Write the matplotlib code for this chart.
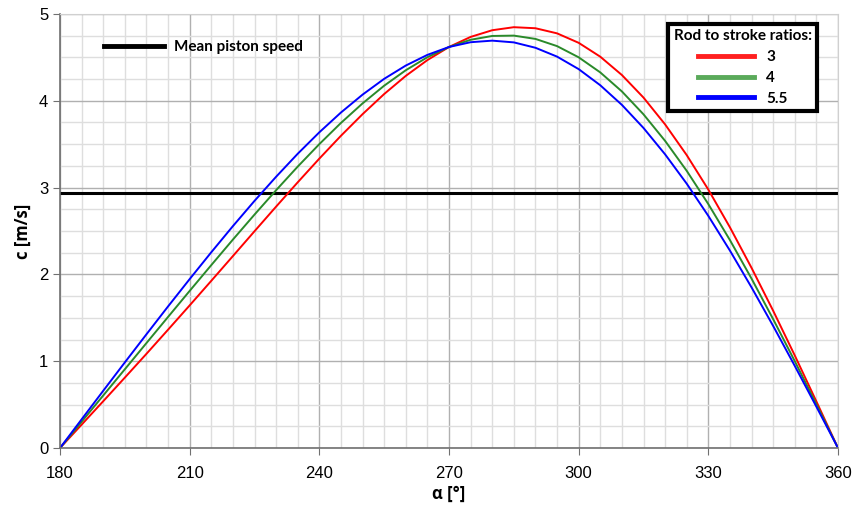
import numpy as np
import matplotlib
matplotlib.use("Agg")
import matplotlib.pyplot as plt
from matplotlib.ticker import MultipleLocator

# crank angle [deg]
alpha = np.arange(180, 365, 5)

# piston speed [m/s] for each rod to stroke ratio
speed_3 = [0.000, 0.269, 0.539, 0.811, 1.085, 1.363, 1.643, 1.926, 2.211, 2.497,
           2.781, 3.061, 3.334, 3.597, 3.846, 4.078, 4.287, 4.469, 4.620, 4.736,
           4.813, 4.848, 4.836, 4.777, 4.668, 4.508, 4.297, 4.037, 3.728, 3.374,
           2.977, 2.542, 2.075, 1.581, 1.066, 0.536, 0.000]
speed_4 = [0.000, 0.302, 0.605, 0.907, 1.209, 1.510, 1.810, 2.107, 2.401, 2.689,
           2.970, 3.242, 3.501, 3.745, 3.970, 4.174, 4.352, 4.502, 4.620, 4.703,
           4.747, 4.751, 4.713, 4.630, 4.501, 4.327, 4.108, 3.844, 3.538, 3.193,
           2.810, 2.395, 1.951, 1.484, 1.000, 0.503, 0.000]
speed_55 = [0.000, 0.330, 0.659, 0.986, 1.310, 1.631, 1.946, 2.255, 2.556, 2.847,
            3.125, 3.390, 3.637, 3.865, 4.071, 4.253, 4.406, 4.529, 4.620, 4.675,
            4.693, 4.673, 4.611, 4.509, 4.365, 4.179, 3.953, 3.687, 3.383, 3.045,
            2.674, 2.274, 1.850, 1.406, 0.946, 0.476, 0.000]
mean_speed = 2.94

ratios = ["3", "4", "5.5"]
colors = ["#ff0000", "#2a8a2a", "#0000ff"]
legend_colors = ["#ff2020", "#5aaa5a", "#0000ff"]

fig = plt.figure(figsize=(8.55, 5.13), dpi=100)
ax = fig.add_axes([60 / 855, 1 - 448 / 513, 778 / 855, 434 / 513])

ax.set_xlim(180, 360)
ax.set_ylim(0, 5)
ax.xaxis.set_major_locator(MultipleLocator(30))
ax.xaxis.set_minor_locator(MultipleLocator(5))
ax.yaxis.set_major_locator(MultipleLocator(1))
ax.yaxis.set_minor_locator(MultipleLocator(0.25))
ax.grid(which="major", color="#b0b0b0", lw=1.0)
ax.grid(which="minor", color="#dedede", lw=1.0)
ax.set_axisbelow(True)

for s in ["top", "right"]:
    ax.spines[s].set_color("#d0d0d0")
for s in ["left", "bottom"]:
    ax.spines[s].set_color("#707070")
    ax.spines[s].set_linewidth(1.2)
ax.tick_params(which="major", length=5, color="#707070", labelsize=12)
ax.tick_params(which="minor", length=0)
for lab in ax.get_xticklabels() + ax.get_yticklabels():
    lab.set_fontfamily("Liberation Sans")
ax.tick_params(axis="x", pad=8)

mean_line = ax.axhline(mean_speed, color="black", lw=2.2)
for y, c, r in zip([speed_3, speed_4, speed_55], colors, ratios):
    ax.plot(alpha, y, color=c, lw=1.4, label=r)

ax.set_xlabel("α [°]", fontsize=12, fontweight="bold", family="Open Sans", labelpad=3)
ax.set_ylabel("c [m/s]", fontsize=12, fontweight="bold", family="Open Sans", labelpad=5)

# mean speed legend (no frame)
h0, = ax.plot([], [], color="black", lw=3.5)
leg1 = ax.legend([h0], ["Mean piston speed"], loc="upper left",
                 bbox_to_anchor=(0.039, 0.972), frameon=False, handlelength=3.9,
                 handletextpad=0.7,
                 prop={"family": "Lato", "weight": "bold", "size": 11})
ax.add_artist(leg1)

# ratio legend
handles = [plt.Line2D([], [], color=c, lw=3.5) for c in legend_colors]
leg2 = ax.legend(handles, ratios, title="Rod to stroke ratios:", loc="upper right",
                 bbox_to_anchor=(0.983, 0.995), frameon=True, fancybox=False,
                 handlelength=3.7, borderpad=0.35, labelspacing=0.45,
                 handletextpad=0.8,
                 prop={"family": "Lato", "weight": "bold", "size": 11},
                 title_fontproperties={"family": "Lato", "weight": "bold", "size": 11})
leg2._legend_box.align = "center"
leg2.get_frame().set_edgecolor("black")
leg2.get_frame().set_linewidth(3)
leg2.get_frame().set_alpha(1)

fig.savefig("out.png", dpi=100)
